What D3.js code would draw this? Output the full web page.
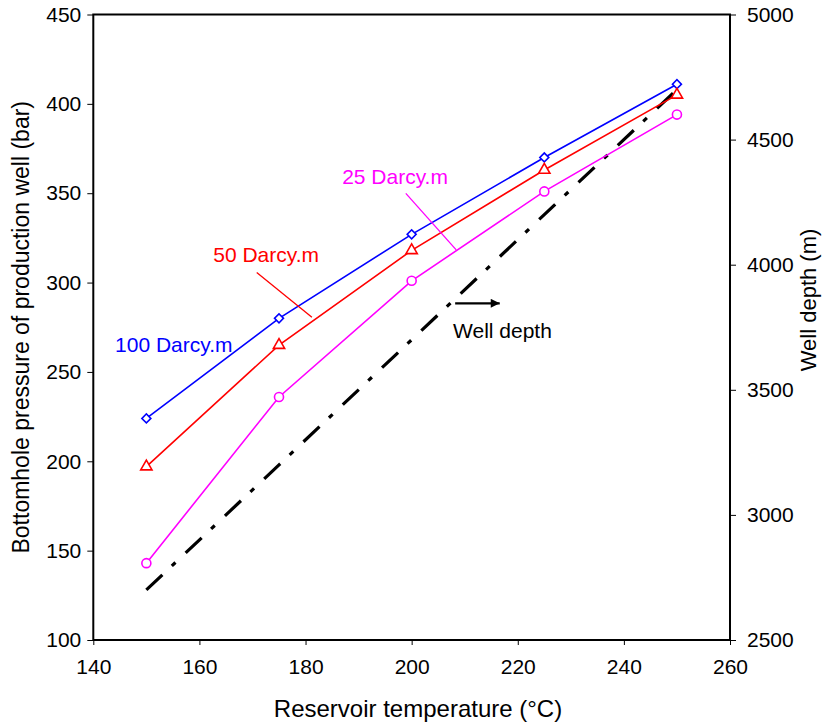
<!DOCTYPE html>
<html><head><meta charset="utf-8">
<script src="https://cdn.jsdelivr.net/npm/d3@7"></script>
<style>
body{margin:0;background:#fff;}
text{font-family:"Liberation Sans",Arial,sans-serif;}
</style></head>
<body><svg id="c" width="830" height="726"></svg>
<script>
const temps = [150, 175, 200, 225, 250];
const p100 = [224, 280, 327, 370, 411];
const p50 = [197, 265, 318, 363, 405];
const p25 = [143, 236, 301, 351, 394];
const depth = [2700, 3200, 3700, 4200, 4700];
const xTicks = [140, 160, 180, 200, 220, 240, 260];
const yTicks = [100, 150, 200, 250, 300, 350, 400, 450];
const y2Ticks = [2500, 3000, 3500, 4000, 4500, 5000];

const svg = d3.select("#c");
const L = 93.3, R = 730, T = 14.5, B = 640;
const x = d3.scaleLinear().domain([140, 260]).range([L, R]);
const y = d3.scaleLinear().domain([100, 450]).range([B, T]);
const y2 = d3.scaleLinear().domain([2500, 5000]).range([B, T]);

svg.append("rect").attr("x", L).attr("y", T).attr("width", R - L).attr("height", B - T)
  .attr("fill", "none").attr("stroke", "#000").attr("stroke-width", 2);

const fsTick = 21;
const ax = svg.append("g").attr("transform", `translate(0,${B})`)
  .call(d3.axisBottom(x).tickValues(xTicks).tickSize(5).tickPadding(14).tickFormat(d3.format("d")));
const ay = svg.append("g").attr("transform", `translate(${L},0)`)
  .call(d3.axisLeft(y).tickValues(yTicks).tickSize(6).tickPadding(6).tickFormat(d3.format("d")));
const ay2 = svg.append("g").attr("transform", `translate(${R},0)`)
  .call(d3.axisRight(y2).tickValues(y2Ticks).tickSize(6).tickPadding(11).tickFormat(d3.format("d")));
[ax, ay, ay2].forEach(g => {
  g.select(".domain").remove();
  g.selectAll(".tick line").attr("stroke", "#000").attr("stroke-width", 1);
  g.selectAll("text").attr("font-size", fsTick).attr("fill", "#000")
    .attr("font-family", '"Liberation Sans",Arial,sans-serif');
});

svg.append("text").attr("x", 418).attr("y", 717).attr("text-anchor", "middle")
  .attr("font-size", 24).text("Reservoir temperature (°C)");
svg.append("text").attr("transform", `translate(29,${(T + B) / 2}) rotate(-90)`)
  .attr("text-anchor", "middle").attr("font-size", 23)
  .text("Bottomhole pressure of production well (bar)");
svg.append("text").attr("transform", `translate(816,300) rotate(-90)`)
  .attr("text-anchor", "middle").attr("font-size", 22).text("Well depth (m)");

const dline = d3.line().x((d, i) => x(temps[i])).y(d => y2(d));
svg.append("path").datum(depth).attr("d", dline).attr("fill", "none")
  .attr("stroke", "#000").attr("stroke-width", 3.2).attr("stroke-dasharray", "22,13,5,14");

const series = [
  {name: "100 Darcy.m", vals: p100, color: "#0000ff", sym: d3.symbolSquare, size: 40, rot: 45},
  {name: "50 Darcy.m", vals: p50, color: "#ff0000", sym: d3.symbolTriangle, size: 55, rot: 0},
  {name: "25 Darcy.m", vals: p25, color: "#ff00ff", sym: d3.symbolCircle, size: 64, rot: 0}
];
const line = d3.line().x((d, i) => x(temps[i])).y(d => y(d));
series.forEach(s => {
  svg.append("path").datum(s.vals).attr("d", line).attr("fill", "none")
    .attr("stroke", s.color).attr("stroke-width", 1.6);
});
series.forEach(s => {
  svg.selectAll(null).data(s.vals).enter().append("path")
    .attr("d", d3.symbol().type(s.sym).size(s.size))
    .attr("transform", (d, i) => `translate(${x(temps[i])},${y(d)}) rotate(${s.rot})`)
    .attr("fill", "#fff").attr("stroke", s.color).attr("stroke-width", 1.6);
});

const fsAnn = 21;
svg.append("text").attr("x", x(144.1)).attr("y", y(261)).attr("font-size", fsAnn)
  .attr("fill", "#0000ff").text("100 Darcy.m");
svg.append("text").attr("x", x(162.6)).attr("y", y(311.3)).attr("font-size", fsAnn)
  .attr("fill", "#ff0000").text("50 Darcy.m");
svg.append("text").attr("x", x(186.9)).attr("y", y(354.9)).attr("font-size", fsAnn)
  .attr("fill", "#ff00ff").text("25 Darcy.m");
svg.append("line").attr("x1", x(170.8)).attr("y1", y(305.7)).attr("x2", x(181.2)).attr("y2", y(280.6))
  .attr("stroke", "#ff0000").attr("stroke-width", 1.3);
svg.append("line").attr("x1", x(198.9)).attr("y1", y(349.9)).attr("x2", x(208.4)).attr("y2", y(318.3))
  .attr("stroke", "#ff00ff").attr("stroke-width", 1.3);

svg.append("text").attr("x", x(207.8)).attr("y", y(268.8)).attr("font-size", fsAnn)
  .attr("fill", "#000").text("Well depth");
svg.append("defs").append("marker").attr("id", "ah").attr("viewBox", "0 0 10 10")
  .attr("refX", 10).attr("refY", 5).attr("markerWidth", 11).attr("markerHeight", 9)
  .attr("markerUnits", "userSpaceOnUse").attr("orient", "auto")
  .append("path").attr("d", "M0,0L10,5L0,10Z").attr("fill", "#000");
svg.append("line").attr("x1", x(208.2)).attr("y1", y(288.4)).attr("x2", x(216.6)).attr("y2", y(288.4))
  .attr("stroke", "#000").attr("stroke-width", 2.2).attr("marker-end", "url(#ah)");
</script></body></html>
